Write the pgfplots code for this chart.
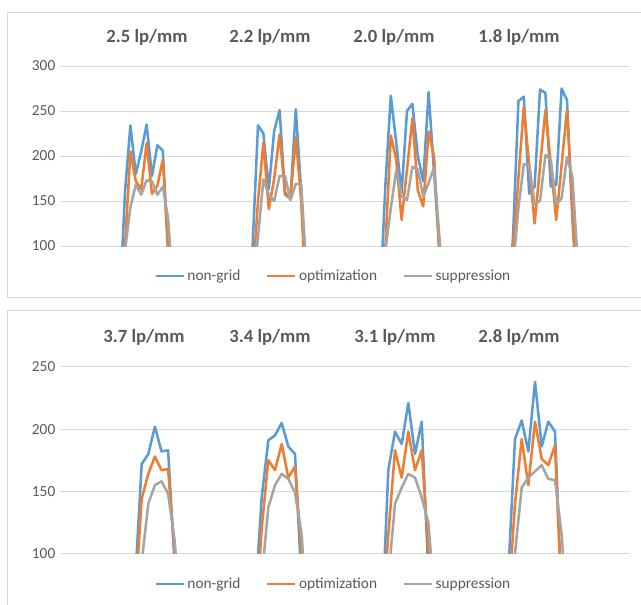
\documentclass[border=0pt]{standalone}
\usepackage{pgfplots}
\pgfplotsset{compat=1.18}
\usepackage{fontspec}
\setmainfont{Carlito}
\definecolor{cblue}{HTML}{5B9BD5}
\definecolor{corange}{HTML}{ED7D31}
\definecolor{cgray}{HTML}{A5A5A5}
\definecolor{gridc}{HTML}{D9D9D9}
\definecolor{txt}{HTML}{595959}

\pgfplotstableread{
x y
119.6 30
125 160
130.4 234
135.8 180
141.2 205
146.6 235
152 178
157.4 212
162.8 206
168.2 90
173.6 20
247.2 30
252.6 100
258 234
263.4 225
268.8 163
274.2 228
279.6 251
285 157
290.4 153
295.8 252
301.2 160
306.6 30
380 40
385.4 168
390.8 267
396.2 215
401.6 159
407 250
412.4 258
417.8 200
423.2 172
428.6 271
434 182
439.4 95
444.8 20
507.6 30
513 110
518.4 261
523.8 266
529.2 158
534.6 166
540 274
545.4 270
550.8 166
556.2 168
561.6 275
567 262
572.4 130
577.8 30
}\topblue

\pgfplotstableread{
x y
119.6 20
125 100
130.4 205
135.8 172
141.2 163
146.6 214
152 158
157.4 167
162.8 196
168.2 95
173.6 20
247.2 20
252.6 60
258 150
263.4 215
268.8 141
274.2 175
279.6 224
285 160
290.4 152
295.8 221
301.2 150
306.6 30
380 20
385.4 100
390.8 223
396.2 196
401.6 129
407 185
412.4 242
417.8 162
423.2 144
428.6 227
434 200
439.4 90
444.8 20
507.6 20
513 95
518.4 175
523.8 255
529.2 190
534.6 125
540 188
545.4 251
550.8 190
556.2 129
561.6 190
567 251
572.4 145
577.8 20
}\toporange

\pgfplotstableread{
x y
119.6 20
125 95
130.4 143
135.8 168
141.2 157
146.6 173
152 172
157.4 157
162.8 166
168.2 130
173.6 40
247.2 20
252.6 50
258 110
263.4 174
268.8 157
274.2 150
279.6 178
285 178
290.4 151
295.8 169
301.2 169
306.6 70
380 20
385.4 95
390.8 142
396.2 184
401.6 155
407 151
412.4 188
417.8 185
423.2 155
428.6 170
434 187
439.4 110
444.8 30
507.6 20
513 75
518.4 142
523.8 191
529.2 190
534.6 147
540 150
545.4 201
550.8 196
556.2 146
561.6 153
567 199
572.4 177
577.8 80
}\topgray

\pgfplotstableread{
x y
135.1 77
141.7 172
148.3 180
154.9 202
161.5 182
168.1 183
174.7 90
181.3 30
255 60
261.7 145
268.3 191
275 195
281.7 205
288.3 186
295 180
301.7 73
308.3 20
381.7 40
388.3 167
395 198
401.7 188
408.3 221
415 180
421.7 206
428.3 85
435 20
508.3 84
515 192
521.7 207
528.3 182
535 238
541.7 186
548.3 206
555 198
561.7 60
568.3 20
}\botblue

\pgfplotstableread{
x y
135.1 60
141.7 144
148.3 164
154.9 178
161.5 167
168.1 168
174.7 100
181.3 30
255 40
261.7 120
268.3 175
275 167
281.7 188
288.3 161
295 170
301.7 98
308.3 20
381.7 40
388.3 115
395 183
401.7 161
408.3 198
415 167
421.7 183
428.3 103
435 20
508.3 60
515 140
521.7 192
528.3 155
535 206
541.7 176
548.3 171
555 187
561.7 60
568.3 20
}\botorange

\pgfplotstableread{
x y
135.1 40
141.7 93
148.3 140
154.9 155
161.5 158
168.1 148
174.7 110
181.3 40
255 30
261.7 80
268.3 137
275 155
281.7 164
288.3 160
295 149
301.7 115
308.3 30
381.7 30
388.3 80
395 140
401.7 153
408.3 164
415 161
421.7 145
428.3 125
435 60
508.3 30
515 100
521.7 153
528.3 161
535 166
541.7 171
548.3 160
555 159
561.7 115
568.3 30
}\botgray

\pgfplotsset{
  panel/.style={
    scale only axis, width=427.5pt, xmin=60, xmax=630, ymin=100,
    axis line style={draw=none}, xtick=\empty,
    ymajorgrids, grid style={gridc, line width=0.75pt},
    major tick length=0pt,
    yticklabel style={font=\fontsize{11.5}{13}\selectfont, text=txt},
    /pgf/number format/assume math mode=true,
    legend columns=3,
    legend style={draw=none, fill=none, font=\fontsize{11.5}{13}\selectfont, text=txt, anchor=center,
      /tikz/every even column/.append style={column sep=17pt}},
    legend image code/.code={\draw[##1] (0pt,0pt) -- (21pt,0pt);},
    every axis plot/.append style={line width=1.9pt, line join=round, mark=none},
  }
}

\begin{document}
\begin{tikzpicture}
\begin{scope}[x=0.75pt,y=-0.75pt]
\useasboundingbox (0,0) rectangle (641,604);
\draw[gridc, line width=0.75pt] (7.5,12) rectangle (660,297.5);
\draw[gridc, line width=0.75pt] (7.5,310.7) rectangle (660,640);
\foreach \t/\xx in {2.5/147, 2.2/270, 2.0/394, 1.8/519}{
  \node[font=\bfseries\fontsize{14}{16}\selectfont, text=txt] at (\xx,37) {\t\ lp/mm};
}
\foreach \t/\xx in {3.7/144, 3.4/270, 3.1/395, 2.8/519}{
  \node[font=\bfseries\fontsize{14}{16}\selectfont, text=txt] at (\xx,337) {\t\ lp/mm};
}
\end{scope}

\begin{axis}[panel, at={(45pt,-184.5pt)}, anchor=south west, height=135pt,
  ymax=300, ytick={100,150,200,250,300},
  legend style={at={(0.48,-0.167)}}]
\addplot[cblue] table[x=x,y=y] {\topblue};
\addplot[corange] table[x=x,y=y] {\toporange};
\addplot[cgray] table[x=x,y=y] {\topgray};
\legend{non-grid, optimization, suppression}
\end{axis}

\begin{axis}[panel, at={(45pt,-415.1pt)}, anchor=south west, height=139.9pt,
  ymax=250, ytick={100,150,200,250},
  legend style={at={(0.48,-0.163)}}]
\addplot[cblue] table[x=x,y=y] {\botblue};
\addplot[corange] table[x=x,y=y] {\botorange};
\addplot[cgray] table[x=x,y=y] {\botgray};
\legend{non-grid, optimization, suppression}
\end{axis}
\end{tikzpicture}
\end{document}
